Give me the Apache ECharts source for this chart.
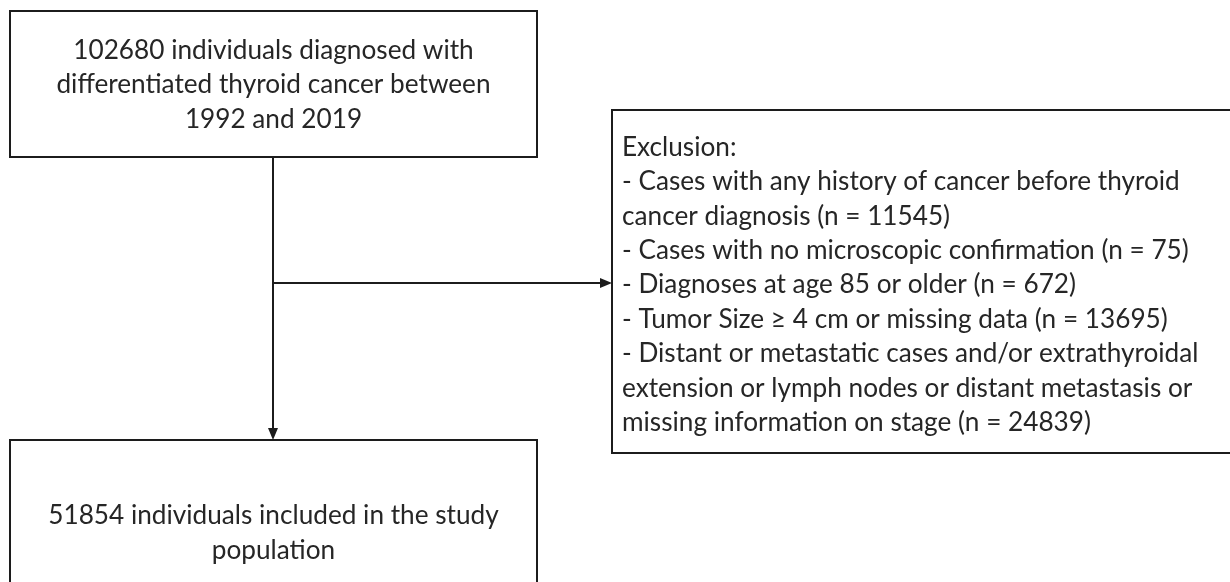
<!DOCTYPE html>
<html>
<head>
<meta charset="utf-8">
<script src="https://cdn.jsdelivr.net/npm/echarts@6/dist/echarts.min.js"></script>
<style>
html,body{margin:0;padding:0;background:#ffffff;}
#chart{width:1230px;height:582px;}
</style>
</head>
<body>
<div id="chart"></div>
<script>
// ---------------- data ----------------
const totalDiagnosed = 102680;
const periodYears = [1992, 2019];
const exclusionTitle = 'Exclusion:';
const exclusionLabels = [
  'Cases with any history of cancer before thyroid\ncancer diagnosis',
  'Cases with no microscopic confirmation',
  'Diagnoses at age 85 or older',
  'Tumor Size \u2265 4 cm or missing data',
  'Distant or metastatic cases and/or extrathyroidal\nextension or lymph nodes or distant metastasis or\nmissing information on stage'
];
const exclusionCounts = [11545, 75, 672, 13695, 24839];
const includedCount = 51854;

// ---------------- texts built from data ----------------
const topText = totalDiagnosed + ' individuals diagnosed with\ndifferentiated thyroid cancer between\n' +
  periodYears[0] + ' and ' + periodYears[1];
const exclusionText = [exclusionTitle].concat(
  exclusionLabels.map((l, i) => '- ' + l + ' (n = ' + exclusionCounts[i] + ')')
).join('\n');
const bottomText = includedCount + ' individuals included in the study\npopulation';

// ---------------- layout (axis units = pixels) ----------------
const FONT_FAMILY = 'Lato';
function measure(text, family) {
  const ctx = document.createElement('canvas').getContext('2d');
  ctx.font = '100px ' + family;
  return ctx.measureText(text).width;
}
const FONT_SIZE = Math.round(100 * 435 / measure('differentiated thyroid cancer between', FONT_FAMILY) * 10) / 10;
const LINE_H = 34.4;
const INK = '#1c1c1c';
const TEXT_COL = '#262626';

const boxes = [
  { r: [10, 11, 537, 157], text: topText, align: 'center', tx: 273.5, ty: 85 },
  { r: [612, 110, 1232, 453], text: exclusionText, align: 'left', tx: 622, ty: 285 },
  { r: [10, 440, 537, 660], text: bottomText, align: 'center', tx: 273.5, ty: 533 }
];
const connectors = [
  { from: [273, 157], to: [273, 440] },
  { from: [273, 283], to: [612, 283] }
];

const chart = echarts.init(document.getElementById('chart'), null, { renderer: 'canvas' });

chart.setOption({
  backgroundColor: '#ffffff',
  animation: false,
  grid: { left: 0, right: 0, top: 0, bottom: 0 },
  xAxis: { type: 'value', min: 0, max: 1230, show: false },
  yAxis: { type: 'value', min: 0, max: 582, inverse: true, show: false },
  series: [
    {
      type: 'custom',
      coordinateSystem: 'cartesian2d',
      clip: false,
      data: boxes.map((b, i) => [b.r[0], b.r[1], b.r[2], b.r[3], i]),
      renderItem: function (params, api) {
        const b = boxes[api.value(4)];
        const p1 = api.coord([api.value(0), api.value(1)]);
        const p2 = api.coord([api.value(2), api.value(3)]);
        const tp = api.coord([b.tx, b.ty]);
        return {
          type: 'group',
          children: [
            {
              type: 'rect',
              shape: { x: p1[0], y: p1[1], width: p2[0] - p1[0], height: p2[1] - p1[1] },
              style: { fill: '#ffffff', stroke: INK, lineWidth: 2 }
            },
            {
              type: 'text',
              style: {
                text: b.text,
                x: tp[0],
                y: tp[1],
                fill: TEXT_COL,
                fontSize: FONT_SIZE,
                fontFamily: FONT_FAMILY,
                align: b.align,
                verticalAlign: 'middle',
                lineHeight: LINE_H
              }
            }
          ]
        };
      }
    },
    {
      type: 'custom',
      coordinateSystem: 'cartesian2d',
      clip: false,
      data: connectors.map((c, i) => [c.from[0], c.from[1], c.to[0], c.to[1], i]),
      renderItem: function (params, api) {
        const a = api.coord([api.value(0), api.value(1)]);
        const b = api.coord([api.value(2), api.value(3)]);
        const dx = b[0] - a[0], dy = b[1] - a[1];
        const len = Math.sqrt(dx * dx + dy * dy);
        const ux = dx / len, uy = dy / len;
        const L = 12, W = 5;
        const base = [b[0] - ux * L, b[1] - uy * L];
        return {
          type: 'group',
          children: [
            {
              type: 'line',
              shape: { x1: a[0], y1: a[1], x2: base[0] + ux * 1, y2: base[1] + uy * 1 },
              style: { stroke: INK, lineWidth: 2 }
            },
            {
              type: 'polygon',
              shape: {
                points: [
                  [b[0], b[1]],
                  [base[0] - uy * W, base[1] + ux * W],
                  [base[0] + uy * W, base[1] - ux * W]
                ]
              },
              style: { fill: INK }
            }
          ]
        };
      }
    }
  ]
});
</script>
</body>
</html>
